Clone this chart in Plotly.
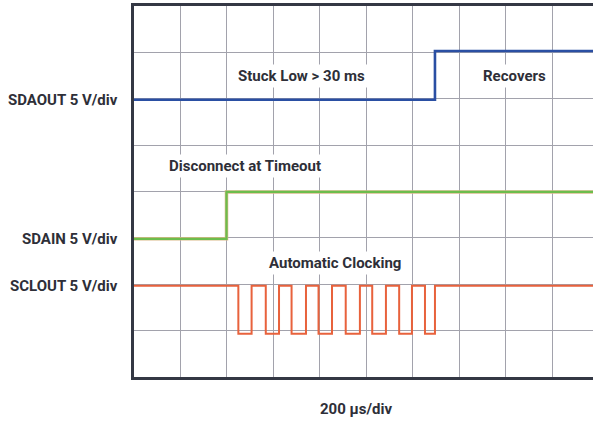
import plotly.graph_objects as go

# Time axis in microseconds (200 us/div), vertical in screen divisions
x_end_us = 1975
sdaout_edges_us = [0, 1295]
sdaout_levels = [5.98, 7.03]
sdain_edges_us = [0, 398]
sdain_levels = [2.98, 3.99]
sclout_edges_us = [0, 449, 506, 567, 624, 678, 740, 794, 852, 911, 972, 1025, 1084, 1141, 1196, 1252, 1295]
sclout_levels = [1.97, 0.93, 1.97, 0.93, 1.97, 0.93, 1.97, 0.93, 1.97, 0.93, 1.97, 0.93, 1.97, 0.93, 1.97, 0.93, 1.97]

channel_labels = ["SDAOUT 5 V/div", "SDAIN 5 V/div", "SCLOUT 5 V/div"]
channel_label_y = [5.98, 2.98, 1.97]
notes = ["Stuck Low > 30 ms", "Recovers", "Disconnect at Timeout", "Automatic Clocking"]
note_x_us = [722, 1636, 477, 865]
note_y = [6.5, 6.48, 4.55, 2.45]
x_title = "200 µs/div"

FONT = "Roboto"
TXT = "#2e2f38"
FS = 15

def stepped(edges, levels):
    return list(edges) + [x_end_us], list(levels) + [levels[-1]]

fig = go.Figure()
x, y = stepped(sdain_edges_us, sdain_levels)
fig.add_trace(go.Scatter(x=x, y=y, mode="lines", line=dict(color="#d9b98a", width=3.5, shape="hv"), hoverinfo="skip"))
fig.add_trace(go.Scatter(x=x, y=y, mode="lines", line=dict(color="#6cbd4c", width=2.2, shape="hv")))
x, y = stepped(sdaout_edges_us, sdaout_levels)
fig.add_trace(go.Scatter(x=x, y=y, mode="lines", line=dict(color="#2a4fa3", width=2.6, shape="hv")))
x, y = stepped(sclout_edges_us, sclout_levels)
fig.add_trace(go.Scatter(x=x, y=y, mode="lines", line=dict(color="#e8623c", width=2, shape="hv")))

for t, yy in zip(channel_labels, channel_label_y):
    fig.add_annotation(x=-0.03, xref="paper", y=yy, yref="y", text=t, showarrow=False,
                       xanchor="right", yanchor="middle",
                       font=dict(family=FONT, size=FS, color=TXT, weight="bold"))
for t, xx, yy in zip(notes, note_x_us, note_y):
    fig.add_annotation(x=xx, y=yy, text=t, showarrow=False, bgcolor="white", borderpad=2,
                       font=dict(family=FONT, size=FS, color=TXT, weight="bold"))
fig.add_annotation(x=0.483, xref="paper", y=-0.085, yref="paper", text=x_title, showarrow=False,
                   yanchor="middle", font=dict(family=FONT, size=FS, color=TXT, weight="bold"))

fig.update_layout(
    width=593, height=421, margin=dict(l=134, r=0, t=6, b=44),
    paper_bgcolor="white", plot_bgcolor="white", showlegend=False,
    xaxis=dict(range=[0, x_end_us], dtick=200, tick0=0, showgrid=True, gridcolor="#a2a2ac", gridwidth=1.4,
               showticklabels=False, ticks="", zeroline=False, showline=True, linecolor="#343844",
               linewidth=2.5, mirror=True),
    yaxis=dict(range=[0, 8], dtick=1, showgrid=True, gridcolor="#a2a2ac", gridwidth=1.4,
               showticklabels=False, ticks="", zeroline=False, showline=True, linecolor="#343844",
               linewidth=2.5, mirror=False),
)
fig.write_html("out.html", config={"displayModeBar": False},
               post_script="document.body.style.margin='0';")
